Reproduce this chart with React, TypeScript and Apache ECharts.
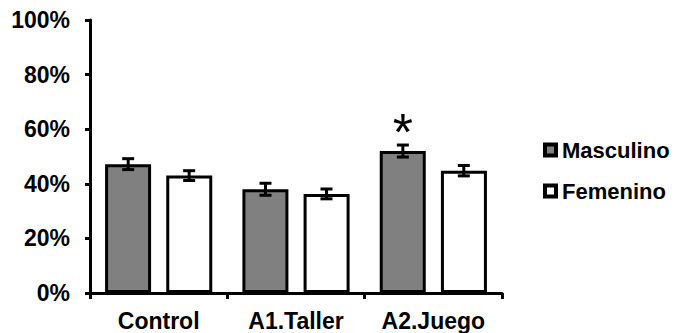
import React, { useEffect, useRef } from "react";
import * as echarts from "echarts";

const categories = ["Control", "A1.Taller", "A2.Juego"];
const masculino = [47.2, 38.0, 52.0];
const femenino = [43.0, 36.3, 44.8];
const masculinoErr = [2.0, 2.2, 2.2];
const femeninoErr = [1.8, 1.8, 1.9];
const significance = ["", "", "*"];
const yTicks = [0, 20, 40, 60, 80, 100];

const FONT = "'Liberation Sans', Arial, sans-serif";

function errorSeries(name: string, values: number[], errs: number[], side: number, marks: string[]) {
  return {
    name,
    type: "custom",
    z: 5,
    silent: true,
    encode: { x: 0, y: [1, 2] },
    data: values.map((v, i) => [i, v - errs[i], v + errs[i], marks[i] || ""]),
    renderItem: (params: any, api: any) => {
      const band = api.size([1, 0])[0];
      const cx = api.coord([api.value(0), 0])[0] + side * band * 0.222;
      const yLow = api.coord([api.value(0), api.value(1)])[1];
      const yHigh = api.coord([api.value(0), api.value(2)])[1];
      const cap = 6;
      const st = { stroke: "#000", lineWidth: 3 };
      const children: any[] = [
        { type: "line", shape: { x1: cx, y1: yLow, x2: cx, y2: yHigh }, style: st },
        { type: "line", shape: { x1: cx - cap, y1: yLow, x2: cx + cap, y2: yLow }, style: st },
        { type: "line", shape: { x1: cx - cap, y1: yHigh, x2: cx + cap, y2: yHigh }, style: st },
      ];
      const mark = marks[params.dataIndex];
      if (mark) {
        children.push({
          type: "text",
          x: cx,
          y: yHigh - 13,
          style: {
            text: mark,
            fill: "#000",
            font: `normal 52px ${FONT}`,
            align: "center",
            verticalAlign: "middle",
          },
        });
      }
      return { type: "group", children };
    },
  };
}

export default function App() {
  const ref = useRef<HTMLDivElement>(null);
  useEffect(() => {
    document.body.style.margin = "0";
    const chart = echarts.init(ref.current!, null, { renderer: "svg" });
    const textStyle = { fontFamily: FONT, fontWeight: "bold", fontSize: 23, color: "#000" };
    chart.setOption({
      animation: false,
      backgroundColor: "#fff",
      grid: { left: 90, right: 176, top: 20, bottom: 40 },
      legend: {
        orient: "vertical",
        left: 543,
        top: 139,
        padding: 0,
        itemWidth: 11,
        itemHeight: 11,
        itemGap: 19,
        textStyle: { ...textStyle, fontSize: 22, lineHeight: 22, padding: [0, 0, 0, 1] },
        data: [
          { name: "Masculino", icon: "rect", itemStyle: { color: "#808080", borderColor: "#000", borderWidth: 4 } },
          { name: "Femenino", icon: "rect", itemStyle: { color: "#fff", borderColor: "#000", borderWidth: 4 } },
        ],
      },
      xAxis: {
        type: "category",
        data: categories,
        axisLine: { lineStyle: { color: "#000", width: 3 } },
        axisTick: { show: true, length: 6, lineStyle: { color: "#000", width: 3 } },
        axisLabel: { ...textStyle, margin: 16 },
        splitLine: { show: false },
      },
      yAxis: {
        type: "value",
        min: 0,
        max: 100,
        interval: 20,
        axisLine: { show: true, lineStyle: { color: "#000", width: 3 } },
        axisTick: { show: true, length: 5, lineStyle: { color: "#000", width: 3 } },
        axisLabel: {
          ...textStyle,
          margin: 20,
          formatter: (v: number) => (yTicks.includes(v) ? `${v}%` : ""),
        },
        splitLine: { show: false },
      },
      series: [
        {
          name: "Masculino",
          type: "bar",
          data: masculino,
          barWidth: 46,
          barGap: "33%",
          itemStyle: { color: "#808080", borderColor: "#000", borderWidth: 3 },
        },
        {
          name: "Femenino",
          type: "bar",
          data: femenino,
          barWidth: 46,
          itemStyle: { color: "#fff", borderColor: "#000", borderWidth: 3 },
        },
        errorSeries("errM", masculino, masculinoErr, -1, significance),
        errorSeries("errF", femenino, femeninoErr, 1, ["", "", ""]),
      ],
    });
    return () => chart.dispose();
  }, []);
  return <div ref={ref} style={{ width: 678, height: 333 }} />;
}
